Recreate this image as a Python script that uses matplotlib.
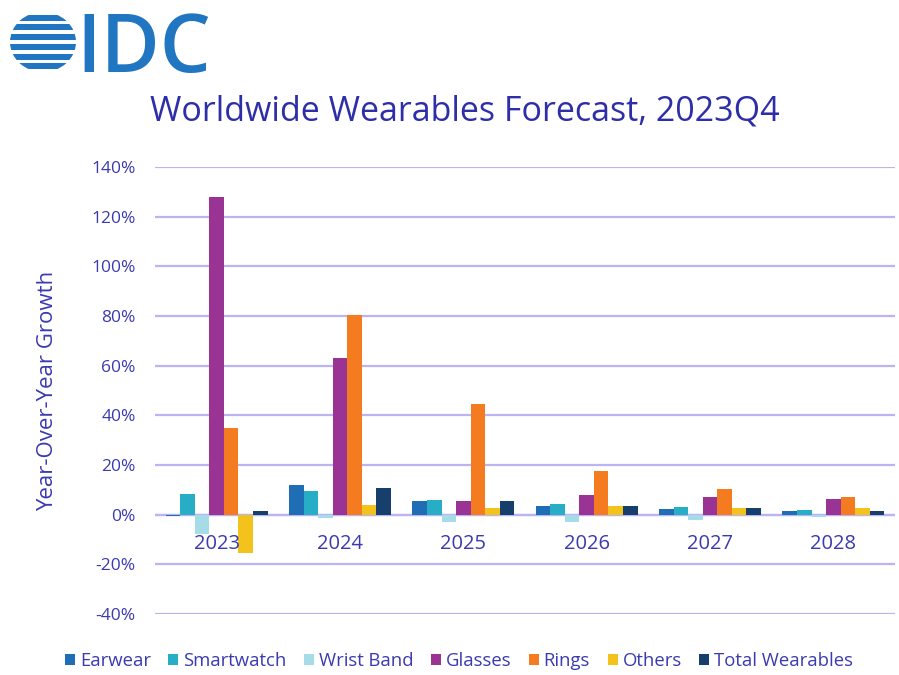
import numpy as np
import matplotlib
matplotlib.use('Agg')
import matplotlib.pyplot as plt
from matplotlib.patches import Circle

plt.rcParams['font.family'] = ['Open Sans', 'DejaVu Sans']

years = ['2023', '2024', '2025', '2026', '2027', '2028']
series = ['Earwear', 'Smartwatch', 'Wrist Band', 'Glasses', 'Rings', 'Others', 'Total Wearables']
earwear = [-0.5, 12.0, 5.6, 3.6, 2.4, 1.4]
smartwatch = [8.4, 9.6, 6.0, 4.4, 3.1, 1.8]
wristband = [-7.6, -1.5, -3.0, -2.8, -2.2, -1.0]
glasses = [127.8, 63.0, 5.6, 7.8, 7.3, 6.3]
rings = [34.9, 80.5, 44.5, 17.4, 10.3, 7.3]
others = [-15.6, 4.0, 2.8, 3.3, 2.7, 2.7]
total = [1.5, 10.8, 5.6, 3.6, 2.7, 1.6]
values = [earwear, smartwatch, wristband, glasses, rings, others, total]
colors = ['#1f6db4', '#27adc6', '#a6dbe8', '#9a3494', '#f47b20', '#f4c21c', '#173f6b']
txt = '#3b3ab0'
grid_c = '#bab5f0'

fig = plt.figure(figsize=(8.99, 6.75), dpi=100)
ax = fig.add_axes([155/899, 1-614/675, 740/899, 447/675])

x = np.arange(len(years))
w = 0.118
for i, (vals, c, lab) in enumerate(zip(values, colors, series)):
    ax.bar(x + (i - 3) * w, vals, w, color=c, label=lab, zorder=3)

ax.set_xlim(-0.5, 5.5)
ax.set_ylim(-40, 140)
ax.set_yticks(np.arange(-40, 141, 20))
ax.set_yticklabels(['%d%%' % v for v in range(-40, 141, 20)], color=txt, fontsize=12.5)
ax.tick_params(axis='y', length=0, pad=14)
ax.set_xticks([])
ax.grid(axis='y', color=grid_c, linewidth=1.6, zorder=0)
ax.axhline(0, color=grid_c, linewidth=1.6, zorder=2)
for s in ax.spines.values():
    s.set_visible(False)
for xi, y in zip(x, years):
    ax.text(xi, -12, y, ha='center', va='center', color=txt, fontsize=14.5)
ax.set_ylabel('Year-Over-Year Growth', color=txt, fontsize=16, labelpad=24)

fig.text(465/899, 1-112/675, 'Worldwide Wearables Forecast, 2023Q4', ha='center', va='center',
         color='#2e2ea8', fontsize=24.5)

leg = ax.legend(loc='center', bbox_to_anchor=((459-155)/740, (614-661)/447), ncol=7, frameon=False,
                fontsize=13.3, handlelength=0.55, handleheight=0.55, handletextpad=0.25,
                columnspacing=0.95, labelcolor=txt)

# logo
fig.text(76/899, 1-72/675, 'IDC', ha='left', va='baseline', color='#2176c2', fontsize=58,
         fontweight='semibold')
lax = fig.add_axes([10/899, 1-72/675, 66/899, 60/675])
lax.set_xlim(-1, 1)
lax.set_ylim(-1, 1)
lax.axis('off')
circ = Circle((0, 0), 1, transform=lax.transData, facecolor='none', edgecolor='none')
lax.add_patch(circ)
stripes = [-0.8, -0.5, -0.17, 0.17, 0.5, 0.8]
for sy in stripes:
    b = lax.barh(sy, 2, left=-1, height=0.2, color='#2176c2')
    for p in b:
        p.set_clip_path(circ)

fig.savefig('out.png', dpi=100)
